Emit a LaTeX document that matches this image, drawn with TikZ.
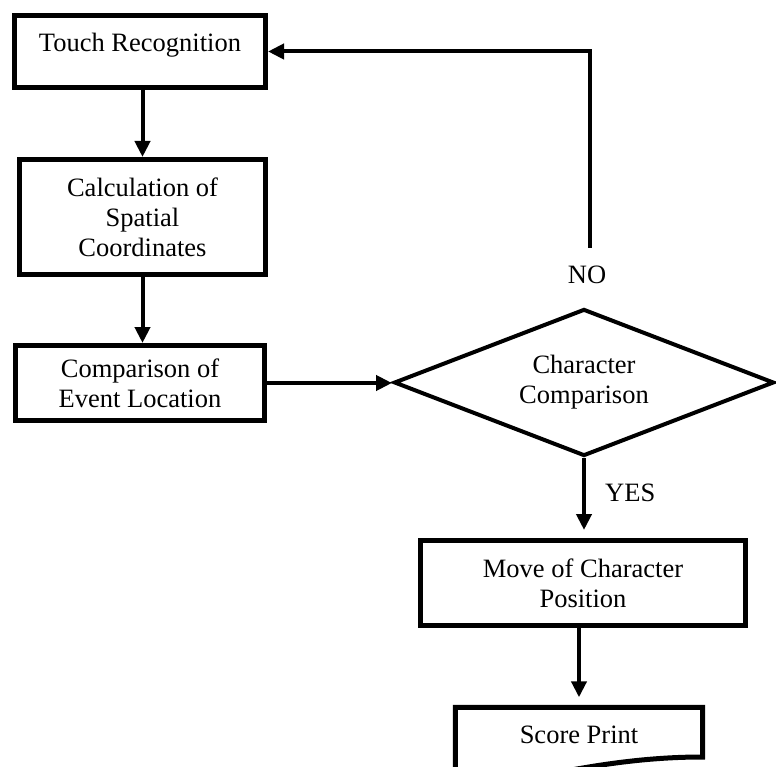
\documentclass[tikz,border=0pt]{standalone}
\usepackage{fontspec}
\setmainfont{Liberation Serif}
\usetikzlibrary{shapes.geometric,arrows.meta}
\tikzset{
  txt/.style={font=\fontsize{26.5}{30}\selectfont},
  stepbox/.style={txt, draw, line width=5pt, align=center, inner sep=0pt},
  decision/.style={txt, diamond, aspect=2.6, draw, line width=4pt, align=center, inner sep=0pt},
  flow/.style={line width=4pt, -{Triangle[length=16pt,width=15pt]}},
  lbl/.style={txt, inner sep=2pt}
}

\begin{document}
\begin{tikzpicture}[x=1pt, y=-1pt]
\useasboundingbox (0,0) rectangle (776,767);

% process boxes
\node[stepbox, minimum width=251pt, minimum height=72pt, text height=20pt, text depth=20pt] (touch) at (140,51.5) {Touch Recognition};
\node[stepbox, minimum width=246pt, minimum height=115pt] (calc) at (142.5,217) {Calculation of\\Spatial\\Coordinates};
\node[stepbox, minimum width=249pt, minimum height=75pt] (comp) at (140,383) {Comparison of\\Event Location};
\node[decision, minimum width=380pt, minimum height=147pt] (dia) at (584,382.5) {Character\\Comparison};
\node[stepbox, minimum width=325pt, minimum height=85pt] (move) at (583,583) {Move of Character\\Position};

% output (document shape, cut by the page edge)
\node[txt, minimum width=247pt, minimum height=55pt, inner sep=0pt] (score) at (579,735) {Score Print};
\begin{scope}
  \clip (0,0) rectangle (776,767);
  \draw[line width=5pt, line join=miter] (score.north west) -- (score.north east) -- (702.5,757)
    .. controls (630,757) and (560,770) .. (455.5,795) -- cycle;
\end{scope}

% connectors
\draw[flow] (calc.north |- touch.south) -- (calc.north);
\draw[flow] (calc.south) -- (calc.south |- comp.north);
\draw[flow] (comp.east) -- (comp.east -| dia.west);
\node[lbl] (no) at (587,275) {NO};
\coordinate (noend) at (590,248);
\draw[flow] (noend) |- (touch.east);
\draw[flow, shorten >=8pt] (dia.south) -- (dia.south |- move.north);
\node[lbl, anchor=west] (yes) at (603,493) {YES};
\draw[flow, shorten >=10pt] (score.north |- move.south) -- (score.north);
\end{tikzpicture}
\end{document}
